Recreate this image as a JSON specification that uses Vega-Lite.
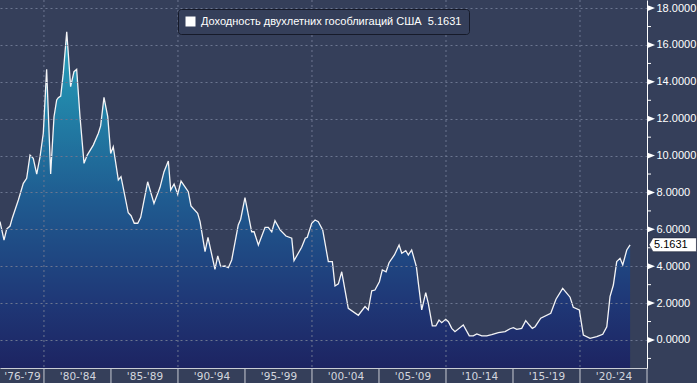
{
  "$schema": "https://vega.github.io/schema/vega-lite/v6.json",
  "width": 647,
  "height": 368,
  "autosize": "none",
  "padding": {"left": 0, "top": 0, "right": 50, "bottom": 15},
  "background": "#353f5a",
  "config": {"view": {"stroke": null}, "font": "DejaVu Sans"},
  "datasets": {
    "yields": [
      {"t":1976.72,"v":6.42},{"t":1977.02,"v":5.42},{"t":1977.22,"v":6.02},{"t":1977.47,"v":6.18},{"t":1977.64,"v":6.62},
      {"t":1978.09,"v":7.59},{"t":1978.46,"v":8.50},{"t":1978.71,"v":8.77},{"t":1978.96,"v":10.03},{"t":1979.20,"v":9.85},
      {"t":1979.46,"v":9.00},{"t":1979.71,"v":9.94},{"t":1979.95,"v":11.21},{"t":1980.20,"v":14.68},{"t":1980.50,"v":9.00},
      {"t":1980.75,"v":12.11},{"t":1980.95,"v":13.02},{"t":1981.07,"v":13.14},{"t":1981.25,"v":13.23},{"t":1981.44,"v":14.46},
      {"t":1981.70,"v":16.72},{"t":1981.99,"v":13.74},{"t":1982.24,"v":14.55},{"t":1982.44,"v":14.68},{"t":1982.69,"v":12.11},
      {"t":1982.99,"v":9.58},{"t":1983.23,"v":10.03},{"t":1983.68,"v":10.57},{"t":1984.06,"v":11.21},{"t":1984.23,"v":11.61},
      {"t":1984.48,"v":13.16},{"t":1984.76,"v":12.11},{"t":1984.98,"v":10.12},{"t":1985.17,"v":10.48},{"t":1985.55,"v":8.68},
      {"t":1985.75,"v":8.86},{"t":1986.29,"v":6.90},{"t":1986.50,"v":6.74},{"t":1986.74,"v":6.33},{"t":1987.00,"v":6.33},
      {"t":1987.22,"v":6.65},{"t":1987.74,"v":8.58},{"t":1988.21,"v":7.41},{"t":1988.66,"v":8.28},{"t":1988.96,"v":9.13},
      {"t":1989.28,"v":9.71},{"t":1989.46,"v":8.13},{"t":1989.71,"v":8.46},{"t":1989.98,"v":7.90},{"t":1990.23,"v":8.62},
      {"t":1990.77,"v":8.04},{"t":1990.97,"v":7.27},{"t":1991.47,"v":6.87},{"t":1991.65,"v":6.42},{"t":1992.02,"v":4.79},
      {"t":1992.24,"v":5.57},{"t":1992.76,"v":3.83},{"t":1992.97,"v":4.56},{"t":1993.19,"v":3.98},{"t":1993.51,"v":4.01},
      {"t":1993.76,"v":3.92},{"t":1994.01,"v":4.34},{"t":1994.50,"v":6.24},{"t":1994.68,"v":6.55},{"t":1995.00,"v":7.72},
      {"t":1995.50,"v":5.87},{"t":1995.68,"v":5.87},{"t":1996.00,"v":5.15},{"t":1996.50,"v":6.11},{"t":1996.74,"v":6.11},
      {"t":1997.00,"v":5.87},{"t":1997.24,"v":6.47},{"t":1997.62,"v":5.97},{"t":1998.06,"v":5.64},{"t":1998.49,"v":5.52},
      {"t":1998.66,"v":4.30},{"t":1999.23,"v":5.03},{"t":1999.50,"v":5.52},{"t":1999.65,"v":5.57},{"t":1999.98,"v":6.33},
      {"t":2000.23,"v":6.51},{"t":2000.47,"v":6.42},{"t":2000.80,"v":5.97},{"t":2001.22,"v":4.25},{"t":2001.52,"v":4.25},
      {"t":2001.72,"v":2.93},{"t":2001.97,"v":3.04},{"t":2002.22,"v":3.70},{"t":2002.71,"v":1.72},{"t":2003.46,"v":1.34},
      {"t":2003.96,"v":1.81},{"t":2004.20,"v":1.63},{"t":2004.46,"v":2.67},{"t":2004.70,"v":2.71},{"t":2005.03,"v":3.16},
      {"t":2005.25,"v":3.80},{"t":2005.53,"v":3.70},{"t":2005.75,"v":4.19},{"t":2006.15,"v":4.61},{"t":2006.50,"v":5.15},
      {"t":2006.70,"v":4.70},{"t":2007.00,"v":4.84},{"t":2007.19,"v":4.61},{"t":2007.44,"v":4.88},{"t":2007.79,"v":3.98},
      {"t":2007.94,"v":3.07},{"t":2008.19,"v":1.63},{"t":2008.49,"v":2.57},{"t":2008.68,"v":1.99},{"t":2008.98,"v":0.76},
      {"t":2009.24,"v":0.76},{"t":2009.48,"v":1.08},{"t":2009.68,"v":0.94},{"t":2009.98,"v":1.12},{"t":2010.18,"v":0.99},
      {"t":2010.43,"v":0.63},{"t":2010.67,"v":0.45},{"t":2011.29,"v":0.81},{"t":2011.74,"v":0.22},{"t":2012.04,"v":0.22},
      {"t":2012.30,"v":0.33},{"t":2012.67,"v":0.22},{"t":2013.04,"v":0.22},{"t":2013.41,"v":0.29},{"t":2013.91,"v":0.40},
      {"t":2014.41,"v":0.45},{"t":2014.78,"v":0.61},{"t":2015.03,"v":0.67},{"t":2015.28,"v":0.58},{"t":2015.65,"v":0.63},
      {"t":2015.95,"v":1.05},{"t":2016.22,"v":0.81},{"t":2016.44,"v":0.63},{"t":2016.65,"v":0.72},{"t":2017.07,"v":1.18},
      {"t":2017.82,"v":1.45},{"t":2018.21,"v":2.21},{"t":2018.71,"v":2.80},{"t":2019.26,"v":2.32},{"t":2019.50,"v":1.77},
      {"t":2019.95,"v":1.63},{"t":2020.25,"v":0.27},{"t":2020.75,"v":0.09},{"t":2021.25,"v":0.18},{"t":2021.70,"v":0.31},
      {"t":2022.00,"v":0.72},{"t":2022.24,"v":2.35},{"t":2022.49,"v":2.98},{"t":2022.74,"v":4.25},{"t":2022.99,"v":4.43},
      {"t":2023.19,"v":4.07},{"t":2023.49,"v":4.88},{"t":2023.74,"v":5.1631}
    ],
    "decades": [{"t": 1980}, {"t": 1990}, {"t": 2000}, {"t": 2010}, {"t": 2020}],
    "periods": [{"t": 1980}, {"t": 1985}, {"t": 1990}, {"t": 1995}, {"t": 2000}, {"t": 2005}, {"t": 2010}, {"t": 2015}, {"t": 2020}, {"t": 2025}],
    "ymajor": [{"v": 0}, {"v": 2}, {"v": 4}, {"v": 6}, {"v": 8}, {"v": 10}, {"v": 12}, {"v": 14}, {"v": 16}, {"v": 18}],
    "yminor": [{"v": -1}, {"v": 1}, {"v": 3}, {"v": 5}, {"v": 7}, {"v": 9}, {"v": 11}, {"v": 13}, {"v": 15}, {"v": 17}],
    "last": [{"v": 5.1631, "label": "5.1631"}]
  },
  "layer": [
    {
      "data": {"name": "yields"},
      "mark": {
        "type": "area",
        "clip": true,
        "color": {
          "gradient": "linear", "x1": 0, "y1": 0, "x2": 0, "y2": 1,
          "stops": [
            {"offset": 0, "color": "#2aa3bf"},
            {"offset": 0.2, "color": "#2286aa"},
            {"offset": 0.5, "color": "#1f5b90"},
            {"offset": 0.8, "color": "#1f3877"},
            {"offset": 1, "color": "#1d2462"}
          ]
        }
      },
      "encoding": {
        "x": {
          "field": "t", "type": "quantitative",
          "scale": {"domain": [1976.72, 2025.0], "nice": false, "zero": false},
          "axis": {
            "orient": "bottom",
            "title": null,
            "grid": false,
            "ticks": false,
            "values": [1978.36, 1982.5, 1987.5, 1992.5, 1997.5, 2002.5, 2007.5, 2012.5, 2017.5, 2022.5],
            "labelExpr": "datum.value < 1979 ? \"'76-'79\" : \"'\" + slice('0' + (floor(datum.value - 2.5) % 100), -2) + \"-'\" + slice('0' + ((floor(datum.value - 2.5) + 4) % 100), -2)",
            "labelFont": "DejaVu Sans",
            "labelFontSize": 10.5,
            "labelColor": "#d3d6de",
            "labelBaseline": "top",
            "labelAlign": "center",
            "labelPadding": 3,
            "labelFlush": false,
            "labelOverlap": false,
            "labelBound": false,
            "domainColor": "#c9ccd4",
            "domainWidth": 1
          }
        },
        "y": {
          "field": "v", "type": "quantitative",
          "scale": {"domain": [-1.52, 18.44], "nice": false, "zero": false},
          "axis": {
            "orient": "right",
            "title": null,
            "zindex": 1,
            "values": [0, 2, 4, 6, 8, 10, 12, 14, 16, 18],
            "format": ".4f",
            "labelFont": "Liberation Sans",
            "labelFontSize": 11,
            "labelColor": "#ffffff",
            "labelPadding": 9,
            "labelFlush": false,
            "labelOverlap": false,
            "ticks": false,
            "domainColor": "#ffffff",
            "domainWidth": 1,
            "grid": true,
            "gridColor": "#6c7690",
            "gridDash": [2, 3]
          }
        },
        "y2": {"datum": -1.52}
      }
    },
    {
      "data": {"name": "decades"},
      "mark": {"type": "rule", "color": "#6c7690", "strokeDash": [2, 3], "strokeWidth": 1},
      "encoding": {
        "x": {"field": "t", "type": "quantitative"}
      }
    },
    {
      "data": {"name": "periods"},
      "mark": {"type": "rule", "clip": false, "color": "#c9ccd4", "strokeWidth": 1},
      "encoding": {
        "x": {"field": "t", "type": "quantitative"},
        "y": {"datum": -1.52, "type": "quantitative"},
        "y2": {"datum": -2.4}
      }
    },
    {
      "data": {"name": "yields"},
      "mark": {"type": "line", "clip": true, "strokeWidth": 1.3, "interpolate": "linear"},
      "encoding": {
        "x": {"field": "t", "type": "quantitative"},
        "y": {"field": "v", "type": "quantitative"},
        "color": {
          "datum": "Доходность двухлетних гособлигаций США\u00a0 5.1631",
          "type": "nominal",
          "scale": {"range": ["#f4f4f6"]},
          "legend": {
            "title": null,
            "orient": "none",
            "legendX": 178,
            "legendY": 9,
            "padding": 7,
            "fillColor": "#353f5a",
            "strokeColor": "#161a29",
            "cornerRadius": 3,
            "symbolType": "square",
            "symbolSize": 100,
            "labelFont": "Liberation Sans",
            "labelFontSize": 11,
            "labelColor": "#ffffff",
            "labelOffset": 5,
            "labelLimit": 400,
            "encode": {
              "symbols": {"update": {"fill": {"value": "#ffffff"}, "stroke": {"value": "#ffffff"}, "strokeWidth": {"value": 0}, "shape": {"value": "square"}, "opacity": {"value": 1}}}
            }
          }
        }
      }
    },
    {
      "data": {"name": "ymajor"},
      "mark": {"type": "point", "clip": false, "filled": true, "fill": "#ffffff", "strokeWidth": 0, "opacity": 1, "size": 256, "shape": "M0,-0.4 L1,0 L0,0.4 Z"},
      "encoding": {
        "x": {"datum": 2025.0, "type": "quantitative"},
        "y": {"field": "v", "type": "quantitative"}
      }
    },
    {
      "data": {"name": "yminor"},
      "mark": {"type": "point", "clip": false, "filled": false, "stroke": "#ffffff", "strokeWidth": 1, "opacity": 1, "size": 256, "shape": "M0,0 L0.5,0"},
      "encoding": {
        "x": {"datum": 2025.0, "type": "quantitative"},
        "y": {"field": "v", "type": "quantitative"}
      }
    },
    {
      "data": {"name": "last"},
      "mark": {
        "type": "point",
        "clip": false,
        "filled": true,
        "fill": "#ffffff",
        "stroke": "#20263a",
        "strokeWidth": 0.6,
        "opacity": 1,
        "size": 2116,
        "shape": "M0.09,0 L0.26,-0.3 L2.15,-0.3 L2.15,0.3 L0.26,0.3 Z"
      },
      "encoding": {
        "x": {"datum": 2025.0, "type": "quantitative"},
        "y": {"field": "v", "type": "quantitative"}
      }
    },
    {
      "data": {"name": "last"},
      "mark": {"type": "text", "clip": false, "align": "left", "baseline": "middle", "dx": 7, "font": "Liberation Sans", "fontSize": 11, "color": "#000000"},
      "encoding": {
        "x": {"datum": 2025.0, "type": "quantitative"},
        "y": {"field": "v", "type": "quantitative"},
        "text": {"field": "label"}
      }
    }
  ]
}
